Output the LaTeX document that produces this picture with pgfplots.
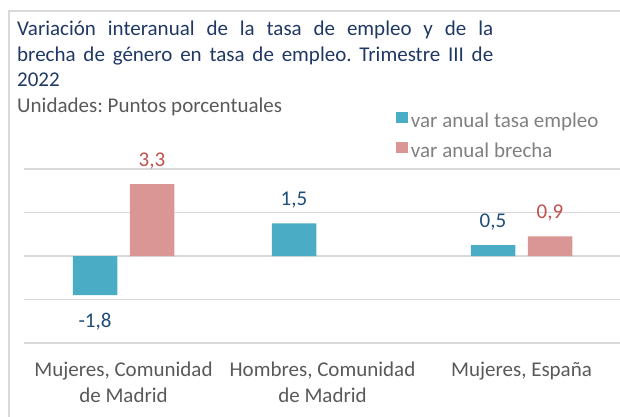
\documentclass[border=0pt]{standalone}
\usepackage{pgfplots}
\pgfplotsset{compat=1.18}
\usepackage{fontspec}
\setmainfont{Carlito}
\frenchspacing
\definecolor{tealbar}{HTML}{4BACC6}
\definecolor{pinkbar}{HTML}{D99694}
\definecolor{titleblue}{HTML}{1F3864}
\definecolor{labblue}{HTML}{1F4E79}
\definecolor{labred}{HTML}{C0504D}
\definecolor{txtgray}{HTML}{595959}
\definecolor{leggray}{HTML}{808080}
\definecolor{gridgray}{HTML}{D9D9D9}

\pgfplotstableread{
x y lab dy
0 -1.8 -1,8 -32.7
1 1.5 1,5 17.5
2 0.5 0,5 17.5
}\tasadata
\pgfplotstableread{
x y lab dy
0 3.3 3,3 17.5
2 0.9 0,9 17.5
}\brechadata

\begin{document}
\begin{tikzpicture}
\useasboundingbox (0pt,0pt) rectangle (620pt,416pt);
\draw[gridgray, line width=1.5pt] (9pt,405pt) rectangle (640pt,-20pt);
\node[anchor=base west, inner sep=0pt, text width=476pt, align=justify,
      font=\fontsize{21}{25.5}\selectfont, text=titleblue] at (17pt,380pt)
  {Variación interanual de la tasa de empleo y de la\linebreak brecha de género en tasa de empleo. Trimestre III de\linebreak 2022};
\node[anchor=base west, inner sep=0pt, font=\fontsize{21}{25.5}\selectfont, text=txtgray] at (17pt,303.5pt)
  {Unidades: Puntos porcentuales};
\begin{axis}[
  at={(24pt,73pt)}, anchor=south west, scale only axis,
  width=597pt, height=174pt,
  xmin=-0.5, xmax=2.5, ymin=-4, ymax=4,
  clip=false,
  axis line style={draw=none}, tick style={draw=none},
  ytick={-4,-2,0,2,4}, yticklabels={},
  ymajorgrids, grid style={gridgray, line width=1.3pt},
  xtick={0,1,2},
  xticklabels={{\strut Mujeres, Comunidad\\de Madrid},{\strut Hombres, Comunidad\\de Madrid},{\strut Mujeres, España}},
  xticklabel style={align=center, anchor=north, inner sep=0pt, yshift=-14.8pt,
                    font=\fontsize{21}{26}\selectfont, text=txtgray},
  legend image code/.code={\fill[#1] (0pt,-0.5pt) rectangle (12pt,10.5pt);},
  legend style={at={(axis description cs:0.6231,1.329)}, anchor=north west,
                draw=none, fill=none, inner sep=0pt, outer sep=0pt,
                row sep=10pt, column sep=3pt,
                font=\fontsize{21}{25}\selectfont, text=leggray,
                nodes={inner sep=0pt, text height=15pt, text depth=5pt}},
  legend cell align=left,
]
\addlegendimage{fill=tealbar, draw=none}
\addlegendentry{var anual tasa empleo}
\addlegendimage{fill=pinkbar, draw=none}
\addlegendentry{var anual brecha}

\addplot[ybar, bar width=44.5pt, bar shift=-28.5pt, fill=tealbar, draw=none, forget plot,
  nodes near coords, point meta=explicit symbolic,
  visualization depends on={\thisrow{dy} \as \dy},
  nodes near coords style={anchor=base, xshift=-28.5pt, yshift=\dy, inner sep=0pt, text=labblue,
                           font=\fontsize{21}{25}\selectfont}]
  table[x=x, y=y, meta=lab] {\tasadata};
\addplot[ybar, bar width=44.5pt, bar shift=28.5pt, fill=pinkbar, draw=none, forget plot,
  nodes near coords, point meta=explicit symbolic,
  visualization depends on={\thisrow{dy} \as \dy},
  nodes near coords style={anchor=base, xshift=28.5pt, yshift=\dy, inner sep=0pt, text=labred,
                           font=\fontsize{21}{25}\selectfont}]
  table[x=x, y=y, meta=lab] {\brechadata};
\end{axis}
\end{tikzpicture}
\end{document}
